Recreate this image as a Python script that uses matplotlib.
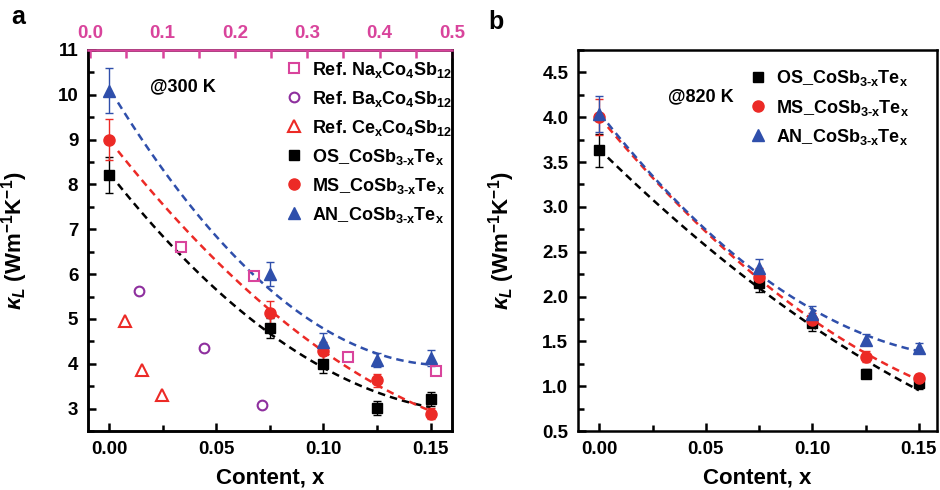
import matplotlib
matplotlib.use('Agg')
import matplotlib.pyplot as plt
import numpy as np
from matplotlib.ticker import MultipleLocator, FormatStrFormatter

plt.rcParams['font.family'] = 'Liberation Sans'
plt.rcParams['font.weight'] = 'bold'
plt.rcParams['axes.labelweight'] = 'bold'
plt.rcParams['mathtext.fontset'] = 'custom'
plt.rcParams['mathtext.rm'] = 'Liberation Sans:bold'
plt.rcParams['mathtext.it'] = 'Liberation Sans:italic:bold'
plt.rcParams['mathtext.default'] = 'rm'

# ---- data ----
x = [0.0, 0.075, 0.1, 0.125, 0.15]

# panel a, 300 K
os_300 = [8.22, 4.80, 3.99, 3.01, 3.21]
ms_300 = [9.00, 5.14, 4.28, 3.63, 2.89]
an_300 = [10.09, 6.00, 4.49, 4.08, 4.13]
os_300_err = [0.40, 0.22, 0.20, 0.15, 0.15]
ms_300_err = [0.45, 0.25, 0.20, 0.15, 0.12]
an_300_err = [0.50, 0.27, 0.20, 0.15, 0.18]

# reference data (top axis)
na_x = [0.126, 0.227, 0.357, 0.478]
na_y = [6.60, 5.95, 4.15, 3.83]
ba_x = [0.068, 0.157, 0.238]
ba_y = [5.62, 4.36, 3.07]
ce_x = [0.048, 0.072, 0.099]
ce_y = [4.95, 3.85, 3.31]

# panel b, 820 K
os_820 = [3.63, 2.15, 1.70, 1.14, 1.03]
ms_820 = [4.00, 2.22, 1.74, 1.33, 1.09]
an_820 = [4.04, 2.32, 1.81, 1.52, 1.43]
os_820_err = [0.18, 0.10, 0.08, 0.05, 0.06]
ms_820_err = [0.20, 0.10, 0.08, 0.06, 0.05]
an_820_err = [0.20, 0.10, 0.08, 0.06, 0.05]

PINK = '#d9449c'
PURPLE = '#8e2f9e'
RED = '#ec2a26'
BLUE = '#2f4fab'
BLACK = 'black'

ylab = r'$\mathit{\kappa_L}$ (Wm$^{-1}$K$^{-1}$)'
labels = {
    'na': r'Ref. Na$_x$Co$_4$Sb$_{12}$',
    'ba': r'Ref. Ba$_x$Co$_4$Sb$_{12}$',
    'ce': r'Ref. Ce$_x$Co$_4$Sb$_{12}$',
    'os': r'OS_CoSb$_{3\text{-}x}$Te$_x$',
    'ms': r'MS_CoSb$_{3\text{-}x}$Te$_x$',
    'an': r'AN_CoSb$_{3\text{-}x}$Te$_x$',
}

fig = plt.figure(figsize=(9.4, 4.9), dpi=100)
axa = fig.add_axes([0.0936, 0.1204, 0.3872, 0.7776])
axb = fig.add_axes([0.6149, 0.1204, 0.3819, 0.7776])


def style(ax):
    for s in ax.spines.values():
        s.set_linewidth(1.8)
    ax.tick_params(which='both', direction='in', top=False, right=False,
                   labelsize=13.5, width=1.8)
    ax.tick_params(which='major', length=6, pad=7)
    ax.tick_params(which='minor', length=4)
    ax.xaxis.set_major_locator(MultipleLocator(0.05))
    ax.xaxis.set_minor_locator(MultipleLocator(0.025))
    ax.xaxis.set_major_formatter(FormatStrFormatter('%.2f'))
    ax.set_xlabel('Content, x', fontsize=16, fontweight='bold')
    ax.xaxis.set_label_coords(0.5, -0.095)


def series(ax, y, err, color, marker, ms, label):
    ax.errorbar(x, y, yerr=err, fmt='none', ecolor=color, elinewidth=1,
                capsize=3, capthick=1, zorder=2)
    p = np.polyfit(x, y, 2)
    xf = np.linspace(0.004, 0.15, 100)
    ax.plot(xf, np.polyval(p, xf), color=color, lw=1.8, ls=(0, (3, 2)), zorder=1)
    h, = ax.plot(x, y, ls='none', marker=marker, ms=ms, color=color,
                 mec=color, label=label, zorder=3)
    return h


# ---- panel a ----
style(axa)
axa.set_xlim(-0.01, 0.16)
axa.set_ylim(2.5, 11)
axa.yaxis.set_major_locator(MultipleLocator(1))
axa.yaxis.set_minor_locator(MultipleLocator(0.5))
axa.set_ylabel(ylab, fontsize=16, fontweight='bold')
axa.yaxis.set_label_coords(-0.16, 0.5)

h_os = series(axa, os_300, os_300_err, BLACK, 's', 7, labels['os'])
h_ms = series(axa, ms_300, ms_300_err, RED, 'o', 8, labels['ms'])
h_an = series(axa, an_300, an_300_err, BLUE, '^', 8.5, labels['an'])

# pink top axis for the reference compositions
top = axa.twiny()
top.set_xlim(-0.003, 0.5)
top.xaxis.set_major_locator(MultipleLocator(0.1))
top.xaxis.set_minor_locator(MultipleLocator(0.05))
top.xaxis.set_major_formatter(FormatStrFormatter('%.1f'))
top.xaxis.set_tick_params(which='major', direction='in', length=6, width=1.8,
                          color=PINK, labelcolor=PINK, labelsize=13.5, pad=6)
top.xaxis.set_tick_params(which='minor', direction='in', length=6, width=1.8,
                          color=PINK)
for s in top.spines.values():
    s.set_linewidth(1.8)
top.spines['top'].set_color(PINK)

h_na, = top.plot(na_x, na_y, ls='none', marker='s', ms=6.5, mfc='none', mec=PINK, mew=1.5, label=labels['na'])
h_ba, = top.plot(ba_x, ba_y, ls='none', marker='o', ms=7, mfc='none', mec=PURPLE, mew=1.5, label=labels['ba'])
h_ce, = top.plot(ce_x, ce_y, ls='none', marker='^', ms=8, mfc='none', mec=RED, mew=1.5, label=labels['ce'])

top.text(0.17, 0.903, '@300 K', transform=axa.transAxes, fontsize=13, fontweight='bold', va='center')
top.legend(handles=[h_na, h_ba, h_ce, h_os, h_ms, h_an], loc='upper left',
           bbox_to_anchor=(0.297, 0.893), bbox_transform=fig.transFigure,
           frameon=False, fontsize=13, handlelength=0.8, handletextpad=0.6,
           labelspacing=0.5, borderaxespad=0)

# ---- panel b ----
style(axb)
axb.set_xlim(-0.01, 0.1585)
axb.set_ylim(0.5, 4.75)
axb.yaxis.set_major_locator(MultipleLocator(0.5))
axb.yaxis.set_minor_locator(MultipleLocator(0.25))
axb.yaxis.set_major_formatter(FormatStrFormatter('%.1f'))
axb.set_ylabel(ylab, fontsize=16, fontweight='bold')
axb.yaxis.set_label_coords(-0.17, 0.5)

g_os = series(axb, os_820, os_820_err, BLACK, 's', 7, labels['os'])
g_ms = series(axb, ms_820, ms_820_err, RED, 'o', 8, labels['ms'])
g_an = series(axb, an_820, an_820_err, BLUE, '^', 8.5, labels['an'])

axb.text(0.25, 0.877, '@820 K', transform=axb.transAxes, fontsize=13, fontweight='bold', va='center')
axb.legend(handles=[g_os, g_ms, g_an], loc='upper left',
           bbox_to_anchor=(0.791, 0.875), bbox_transform=fig.transFigure,
           frameon=False, fontsize=13, handlelength=0.8, handletextpad=0.6,
           labelspacing=0.5, borderaxespad=0)

fig.text(0.012, 0.965, 'a', fontsize=18, fontweight='bold', va='center')
fig.text(0.52, 0.955, 'b', fontsize=18, fontweight='bold', va='center')

fig.savefig('out.png', dpi=100)
